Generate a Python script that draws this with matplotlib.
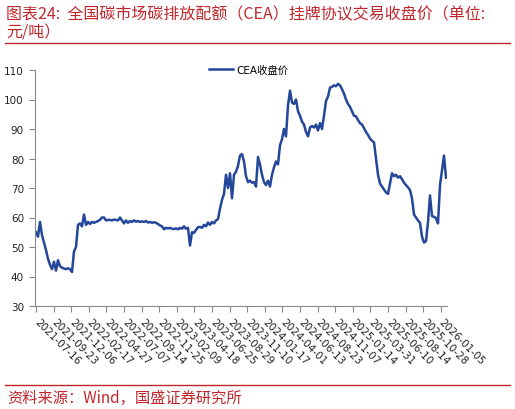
import matplotlib
matplotlib.use("Agg")
import matplotlib.pyplot as plt
from matplotlib.lines import Line2D
import numpy as np

plt.rcParams['font.family'] = ['DejaVu Sans', 'Noto Sans CJK SC']

title = "图表24:  全国碳市场碳排放配额（CEA）挂牌协议交易收盘价（单位:\n元/吨）"
source = "资料来源：Wind，国盛证券研究所"
series_name = "CEA收盘价"

tick_labels = ["2021-07-16", "2021-09-23", "2021-12-06", "2022-02-17", "2022-04-27",
               "2022-07-07", "2022-09-14", "2022-11-25", "2023-02-09", "2023-04-18",
               "2023-06-25", "2023-08-29", "2023-11-10", "2024-01-17", "2024-04-01",
               "2024-06-13", "2024-08-23", "2024-11-07", "2025-01-14", "2025-03-31",
               "2025-06-10", "2025-08-14", "2025-10-28", "2026-01-05"]

price = [
    55.0, 53.5, 58.5, 54.0, 51.5, 49.0, 46.0, 44.0, 42.5, 45.0,
    42.0, 45.5, 43.5, 43.0, 42.7, 42.5, 42.8, 42.5, 41.5, 48.5,
    50.0, 57.5, 58.0, 57.0, 61.0, 57.5, 58.5, 57.8, 58.5, 58.2,
    58.5, 58.8, 59.2, 60.0, 60.0, 59.0, 59.2, 59.2, 59.0, 59.3,
    59.2, 59.0, 60.0, 59.0, 58.0, 59.0, 58.2, 58.8, 58.5, 59.0,
    58.6, 58.8, 58.5, 58.7, 58.5, 58.8, 58.3, 58.5, 58.2, 58.4,
    58.2, 57.8, 57.3, 57.0, 56.0, 56.5, 56.3, 56.5, 56.2, 56.1,
    56.3, 56.0, 56.5, 56.2, 57.0, 56.2, 56.5, 50.5, 55.0, 54.8,
    55.8, 56.7, 56.8, 56.5, 57.5, 57.0, 58.3, 57.5, 58.5, 58.0,
    59.0, 59.5, 63.0, 66.0, 68.0, 74.5, 70.0, 75.0, 66.5, 74.5,
    75.5, 77.5, 81.0, 81.5, 79.0, 74.0, 72.0, 72.5, 71.8, 72.0,
    70.5, 80.5, 78.0, 74.5, 72.0, 71.0, 72.5, 70.5, 74.5, 77.0,
    79.0, 78.0, 84.5, 86.5, 90.0, 87.5, 98.0, 103.0, 99.0, 98.5,
    100.0, 96.0, 94.5, 92.5, 91.5, 89.0, 87.5, 90.5, 91.0, 90.5,
    91.5, 89.5, 92.0, 90.0, 94.5, 99.5, 101.0, 104.0, 104.3, 104.8,
    104.5, 105.3, 104.8, 103.5, 102.0, 100.0, 98.5, 97.5, 96.0, 94.5,
    94.3, 93.0, 92.0, 91.5, 90.3, 89.0, 88.0, 86.8, 86.0, 85.5,
    80.0, 74.5, 71.5, 70.5, 69.5, 68.5, 68.0, 71.5, 75.0, 74.0,
    74.5, 73.5, 74.0, 73.0, 71.8, 71.0, 70.2, 69.3, 66.5, 61.0,
    60.0, 59.0, 58.2, 53.5, 51.5, 52.0, 58.5, 67.5, 60.5, 60.2,
    59.8, 58.0, 71.0, 76.0, 81.0, 73.5,
]

red = '#C0272D'
blue = '#24479A'
axis_gray = '#898989'

fig = plt.figure(figsize=(5.15, 4.10), dpi=100)
ax = fig.add_axes([35/515, 1 - 307/410, (447-35)/515, (307-71)/410])

x = np.arange(len(price))
ax.plot(x, price, color=blue, lw=1.8, label=series_name, solid_joinstyle='round')

ax.set_ylim(30, 110)
ax.set_yticks(np.arange(30, 111, 10))
ax.set_xlim(-0.5, 205.5)
tick_pos = np.arange(len(tick_labels)) * 8.8
ax.set_xticks(tick_pos)
ax.set_xticklabels(tick_labels, rotation=-45, ha='left', va='center',
                   rotation_mode='anchor')

for s in ['top', 'right']:
    ax.spines[s].set_visible(False)
for s in ['left', 'bottom']:
    ax.spines[s].set_color(axis_gray)
    ax.spines[s].set_linewidth(0.8)
ax.tick_params(axis='both', direction='out', length=4, width=0.8, color=axis_gray,
               labelsize=7.5, labelcolor='#222222')
ax.tick_params(axis='y', pad=4)
ax.tick_params(axis='x', pad=6)

leg = ax.legend(loc='upper left', bbox_to_anchor=((205-35)/412, 1.04), frameon=False,
                fontsize=7.5, handlelength=2.3, handletextpad=0.3, borderaxespad=0)

fig.text(6/515, 1 - 24/410, title, color=red, fontsize=11.5, style='italic',
         family=['Noto Sans CJK SC'], ha='left', va='center', linespacing=1.15)
fig.add_artist(Line2D([5/515, 510/515], [1 - 44/410, 1 - 44/410], color=red, lw=1.0))
fig.add_artist(Line2D([5/515, 510/515], [1 - 386/410, 1 - 386/410], color=red, lw=1.0))
fig.text(7/515, 1 - 398/410, source, color=red, fontsize=11, style='italic',
         family=['Noto Sans CJK SC'], ha='left', va='center')

fig.savefig('out.png', dpi=100)
